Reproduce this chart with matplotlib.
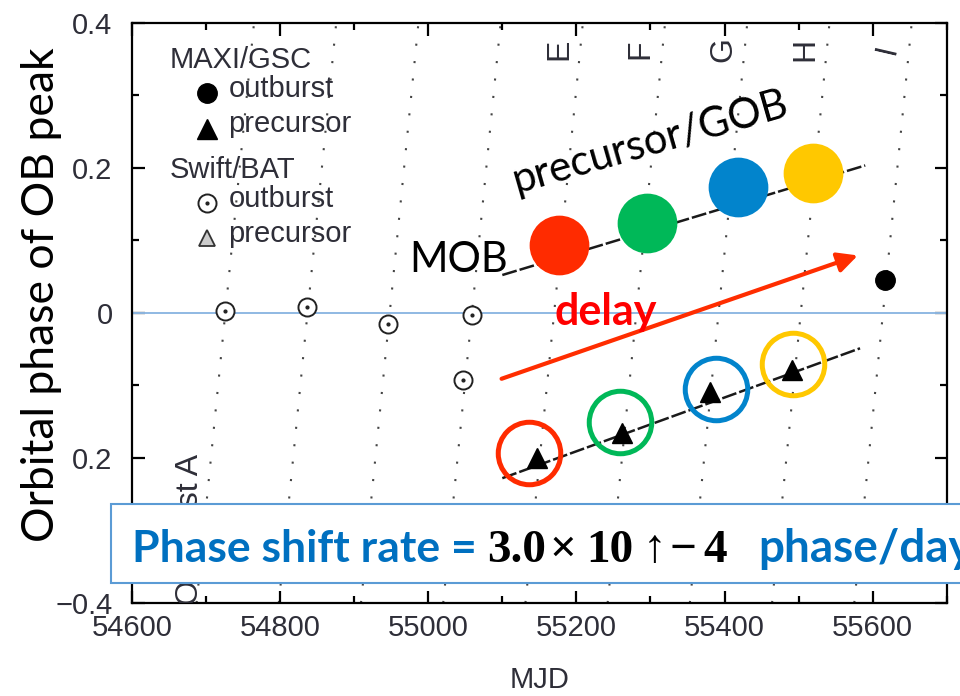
import numpy as np
import matplotlib.pyplot as plt
from matplotlib.patches import Rectangle
from matplotlib.ticker import MultipleLocator

plt.rcParams['font.family'] = ['Liberation Sans', 'DejaVu Sans']
plt.rcParams['axes.linewidth'] = 1.6

# Swift/BAT outburst peaks (MJD, orbital phase)
bat_ob_mjd = [54725, 54836, 54946, 55059, 55047]
bat_ob_phase = [0.003, 0.008, -0.015, -0.003, -0.092]
bat_ob_err = [0.0, 0.012, 0.0, 0.010, 0.0]

# MAXI/GSC outburst and precursor peaks
gsc_ob_mjd = [55617]
gsc_ob_phase = [0.045]
gsc_pre_mjd = [55147, 55261, 55380, 55491]
gsc_pre_phase = [-0.200, -0.166, -0.109, -0.079]

# linear trends through the peaks (end points)
ob_fit_mjd = [55100, 55590]
ob_fit_phase = [0.052, 0.203]
pre_fit_mjd = [55100, 55583]
pre_fit_phase = [-0.228, -0.049]

# guide line for each orbital cycle: MJD where it crosses phase 0
cycle_mjd = [54726, 54837, 54948, 55059, 55170, 55281, 55392, 55503, 55614]
cycle_drift = 97.0   # days per unit phase along a guide line
cycle_names = ['E', 'F', 'G', 'H', 'I']
cycle_name_mjd = [55177, 55287, 55399, 55509, 55620]
cycle_name_phase = 0.363

# highlighted peaks
hl_colors = ['#FF2B00', '#00B858', '#0284CC', '#FFC800']
hl_ob_mjd = [55177, 55295, 55418, 55519]
hl_ob_phase = [0.094, 0.124, 0.173, 0.193]
hl_pre_mjd = [55136, 55259, 55389, 55493]
hl_pre_phase = [-0.193, -0.150, -0.105, -0.071]

delay_from = (55099, -0.091)
delay_to = (55580, 0.079)

# shift rate written out in pieces: (text, left edge in px)
rate_parts = [('3.0', 487), ('\u00d7', 549), ('10', 586), ('\u2191', 643),
              ('\u2212', 669), ('4', 703)]

ink = '#2e2e38'
W, H = 960, 696
fig = plt.figure(figsize=(W / 100, H / 100), dpi=100)
ax = fig.add_axes([132 / W, 1 - 603 / H, 814.7 / W, 580.5 / H])

# cycle guide lines
edge = np.array([-0.4, 0.4])
for t0 in cycle_mjd:
    ax.plot(t0 + cycle_drift * edge, edge, ls=(0, (1, 7.4)), lw=1.5,
            color='#444444', zorder=1)
for name, t in zip(cycle_names, cycle_name_mjd):
    ax.text(t, cycle_name_phase, name, rotation=77 if name == 'I' else 90,
            ha='center', va='center', fontsize=23, color=ink)
ax.text(54678, -0.194, 'Outburst A', rotation=90, ha='center', va='top',
        fontsize=23, color=ink, clip_on=True)

ax.axhline(0, color='#8FB9E3', lw=1.4, zorder=2)

ax.plot(ob_fit_mjd, ob_fit_phase, ls=(0, (6, 1.2)), lw=1.8, color='#1a1a1a', zorder=3)
ax.plot(pre_fit_mjd, pre_fit_phase, ls=(0, (6, 1.2)), lw=1.8, color='#1a1a1a', zorder=3)

ax.errorbar(bat_ob_mjd, bat_ob_phase, yerr=bat_ob_err, fmt='o', ms=13,
            mfc='white', mec='#222222', mew=1.4, ecolor='#222222', elinewidth=1.8,
            capsize=0, zorder=4)
ax.plot(bat_ob_mjd, bat_ob_phase, '.', ms=4, color='#222222', zorder=5)
ax.plot(gsc_ob_mjd, gsc_ob_phase, 'o', ms=14, color='black', zorder=4)
ax.plot(gsc_pre_mjd, gsc_pre_phase, '^', ms=15, color='black', zorder=4)

ax.set_xlim(54600, 55700)
ax.set_ylim(-0.4, 0.4)
ax.xaxis.set_major_locator(MultipleLocator(200))
ax.xaxis.set_minor_locator(MultipleLocator(100))
ax.set_yticks([-0.4, -0.2, 0, 0.2, 0.4])
ax.set_yticklabels(['\u22120.4', '0.2', '0', '0.2', '0.4'])
ax.yaxis.set_minor_locator(MultipleLocator(0.1))
ax.tick_params(which='both', direction='in', top=True, right=True,
               labelsize=21, labelcolor=ink, width=1.6)
ax.tick_params(which='major', length=9)
ax.tick_params(which='minor', length=5)
ax.tick_params(axis='x', pad=8)
ax.tick_params(axis='y', pad=14)
ax.set_xlabel('MJD', fontsize=21, color=ink, labelpad=17)

# legend block
lx_m, lx_t = 0.0917, 0.1184
ax.text(0.0466, 0.921, 'MAXI/GSC', transform=ax.transAxes, fontsize=21, color=ink)
ax.plot(lx_m, 0.878, 'o', ms=14, color='black', transform=ax.transAxes)
ax.text(lx_t, 0.871, 'outburst', transform=ax.transAxes, fontsize=21, color=ink)
ax.plot(lx_m, 0.817, '^', ms=15, color='black', transform=ax.transAxes)
ax.text(lx_t, 0.812, 'precursor', transform=ax.transAxes, fontsize=21, color=ink)
ax.text(0.0466, 0.732, 'Swift/BAT', transform=ax.transAxes, fontsize=21, color=ink)
ax.plot(lx_m, 0.689, 'o', ms=13, mfc='white', mec='#222222', mew=1.4,
        transform=ax.transAxes)
ax.plot(lx_m, 0.689, '.', ms=4, color='#222222', transform=ax.transAxes)
ax.text(lx_t, 0.682, 'outburst', transform=ax.transAxes, fontsize=21, color=ink)
ax.plot(lx_m, 0.628, '^', ms=11, mfc='#cccccc', mec='#333333', mew=1.3,
        transform=ax.transAxes)
ax.text(lx_t, 0.622, 'precursor', transform=ax.transAxes, fontsize=21, color=ink)

# highlighted peaks
for c, t, p in zip(hl_colors, hl_ob_mjd, hl_ob_phase):
    ax.plot(t, p, 'o', ms=43, color=c, mew=0, zorder=6)
for c, t, p in zip(hl_colors, hl_pre_mjd, hl_pre_phase):
    ax.plot(t, p, 'o', ms=45, mfc='none', mec=c, mew=3.6, zorder=6)

ax.annotate('', xy=delay_to, xytext=delay_from,
            arrowprops=dict(arrowstyle='-|>', color='#FF2D00', lw=3,
                            mutation_scale=30, shrinkA=0, shrinkB=0), zorder=7)

lato = ['Lato', 'DejaVu Sans']
ax.text(54975, 0.056, 'MOB', fontsize=30, family=lato, color='black', zorder=8)
ax.text(55299, 0.235, 'precursor/GOB', fontsize=30, family=lato, rotation=16,
        rotation_mode='anchor', ha='center', va='center', color='black', zorder=8)
ax.text(55171, -0.017, 'delay', fontsize=31, family=lato, weight='bold',
        color='#FF0000', zorder=8)

fig.text(42 / W, 1 - 295 / H, 'Orbital phase of OB peak', rotation=90,
         ha='center', va='center', fontsize=32, family=lato, color='black')

box = Rectangle((111 / W, 1 - 583 / H), 1.0, 79 / H, transform=fig.transFigure,
                facecolor='white', edgecolor='#5B9BD5', lw=1.5, zorder=10)
fig.add_artist(box)
base = 1 - 561.7 / H
fig.text(132 / W, base, 'Phase shift rate =', fontsize=32, family=lato,
         weight='bold', color='#0070C0', zorder=11)
for s, px in rate_parts:
    fig.text(px / W, base, s, fontsize=34,
             family=['Liberation Serif', 'DejaVu Serif'], weight='bold',
             style='italic' if s == '\u2191' else 'normal',
             color='black', zorder=11)
fig.text(758 / W, base, 'phase/day', fontsize=33, family=lato,
         weight='bold', color='#0070C0', zorder=11)

fig.savefig('out.png', dpi=100)
